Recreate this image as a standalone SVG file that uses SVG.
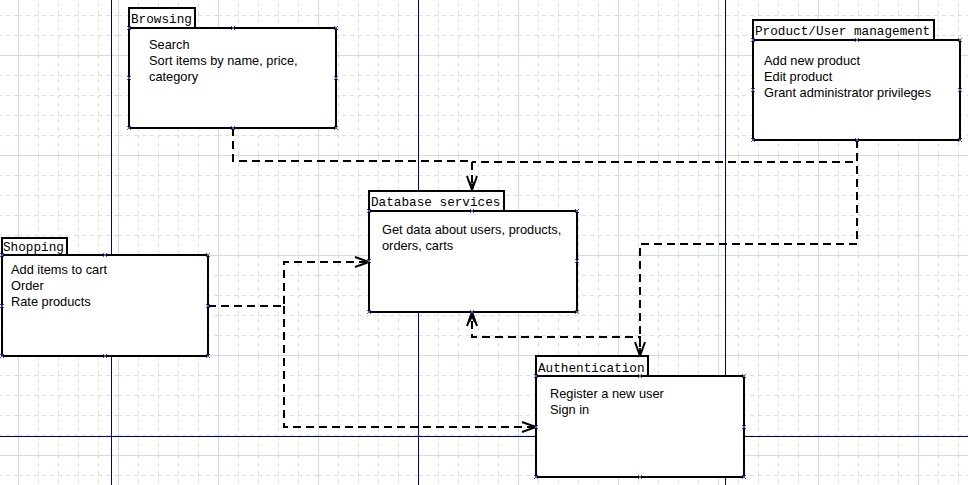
<svg xmlns="http://www.w3.org/2000/svg" width="968" height="485" viewBox="0 0 968 485">
<style>
.box{fill:#fff;stroke:#000;stroke-width:2}
.tab{font-family:"Liberation Mono","Courier New",monospace;font-size:12.7px;fill:#000}
.body{font-family:"Liberation Sans",Arial,sans-serif;font-size:12.8px;fill:#000}
.conn{fill:none;stroke:#000;stroke-width:2;stroke-dasharray:8,5}
.head{fill:none;stroke:#000;stroke-width:2}
.guide{stroke:#00008b;stroke-width:1}
.pt{stroke:#4a4ae0;stroke-width:1}
</style>
<defs>
<pattern id="grid" patternUnits="userSpaceOnUse" x="18" y="55" width="100" height="100">
<g stroke="#d6e2de" stroke-width="1" stroke-dasharray="4,4">
<path d="M20.5 0V100M40.5 0V100M60.5 0V100M80.5 0V100M0 20.5H100M0 40.5H100M0 60.5H100M0 80.5H100"/>
</g>
<path d="M0.5 0V100M0 0.5H100" stroke="#d2ddd9" stroke-width="1.2"/>
</pattern>
<g id="x"><path class="pt" d="M-2 -2L2 2M-2 2L2 -2"/></g>
</defs>
<rect width="968" height="485" fill="#fff"/>
<rect width="968" height="485" fill="url(#grid)"/>
<g id="guides">
<path class="guide" d="M111.5 0V485M418.5 0V485M725.5 0V485M0 436.5H968"/>
</g>
<g id="connectors">
<path class="conn" d="M233 128V161H472V188"/>
<path class="conn" d="M857 140V162H472"/>
<path class="conn" d="M857 140V244H640V354"/>
<path class="conn" d="M208 306H284V262H367"/>
<path class="conn" d="M284 306V427H534"/>
<path class="conn" d="M640 356V337H472V314"/>
<path class="head" d="M467 176L472 190L477 176M468 180L472 186L476 180"/>
<path class="head" d="M635 342L640 356L645 342"/>
<path class="head" d="M355 257L369 262L355 267"/>
<path class="head" d="M522 422L536 427L522 432"/>
<path class="head" d="M467 326L472 312L477 326M469 322L472 316L475 322"/>
</g>
<g id="browsing">
<rect class="box" x="129" y="8" width="66" height="20"/>
<text class="tab" x="131" y="23">Browsing</text>
<rect class="box" x="129" y="28" width="207" height="100"/>
<text class="body" x="149" y="49">Search</text>
<text class="body" x="149" y="65">Sort items by name, price,</text>
<text class="body" x="149" y="81">category</text>
</g>
<g id="product-user-management">
<rect class="box" x="753" y="20" width="181" height="20"/>
<text class="tab" x="755" y="35">Product/User management</text>
<rect class="box" x="753" y="40" width="207" height="100"/>
<text class="body" x="764" y="65">Add new product</text>
<text class="body" x="764" y="81">Edit product</text>
<text class="body" x="764" y="97">Grant administrator privileges</text>
</g>
<g id="shopping">
<rect class="box" x="2" y="238" width="65" height="17"/>
<text class="tab" x="3" y="251">Shopping</text>
<rect class="box" x="2" y="255" width="206" height="101"/>
<text class="body" x="11" y="274">Add items to cart</text>
<text class="body" x="11" y="290">Order</text>
<text class="body" x="11" y="306">Rate products</text>
</g>
<g id="database-services">
<rect class="box" x="369" y="191" width="135" height="20"/>
<text class="tab" x="371" y="206">Database services</text>
<rect class="box" x="369" y="211" width="208" height="101"/>
<text class="body" x="382" y="234">Get data about users, products,</text>
<text class="body" x="382" y="250">orders, carts</text>
</g>
<g id="authentication">
<rect class="box" x="536" y="356" width="112" height="20"/>
<text class="tab" x="538" y="372">Authentication</text>
<rect class="box" x="536" y="376" width="208" height="101"/>
<text class="body" x="550" y="398">Register a new user</text>
<text class="body" x="550" y="414">Sign in</text>
</g>
<g id="points">
<use href="#x" x="129" y="28"/><use href="#x" x="233" y="28"/><use href="#x" x="336" y="28"/><use href="#x" x="129" y="78"/><use href="#x" x="336" y="78"/><use href="#x" x="129" y="128"/><use href="#x" x="233" y="128"/><use href="#x" x="336" y="128"/>
<use href="#x" x="753" y="40"/><use href="#x" x="857" y="40"/><use href="#x" x="960" y="40"/><use href="#x" x="753" y="90"/><use href="#x" x="960" y="90"/><use href="#x" x="753" y="140"/><use href="#x" x="857" y="140"/><use href="#x" x="960" y="140"/>
<use href="#x" x="2" y="255"/><use href="#x" x="105" y="255"/><use href="#x" x="208" y="255"/><use href="#x" x="2" y="306"/><use href="#x" x="208" y="306"/><use href="#x" x="2" y="356"/><use href="#x" x="105" y="356"/><use href="#x" x="208" y="356"/>
<use href="#x" x="369" y="211"/><use href="#x" x="472" y="211"/><use href="#x" x="577" y="211"/><use href="#x" x="369" y="261"/><use href="#x" x="577" y="261"/><use href="#x" x="369" y="312"/><use href="#x" x="472" y="312"/><use href="#x" x="577" y="312"/>
<use href="#x" x="536" y="376"/><use href="#x" x="640" y="376"/><use href="#x" x="744" y="376"/><use href="#x" x="536" y="427"/><use href="#x" x="744" y="427"/><use href="#x" x="536" y="477"/><use href="#x" x="640" y="477"/><use href="#x" x="744" y="477"/>
</g>
</svg>
